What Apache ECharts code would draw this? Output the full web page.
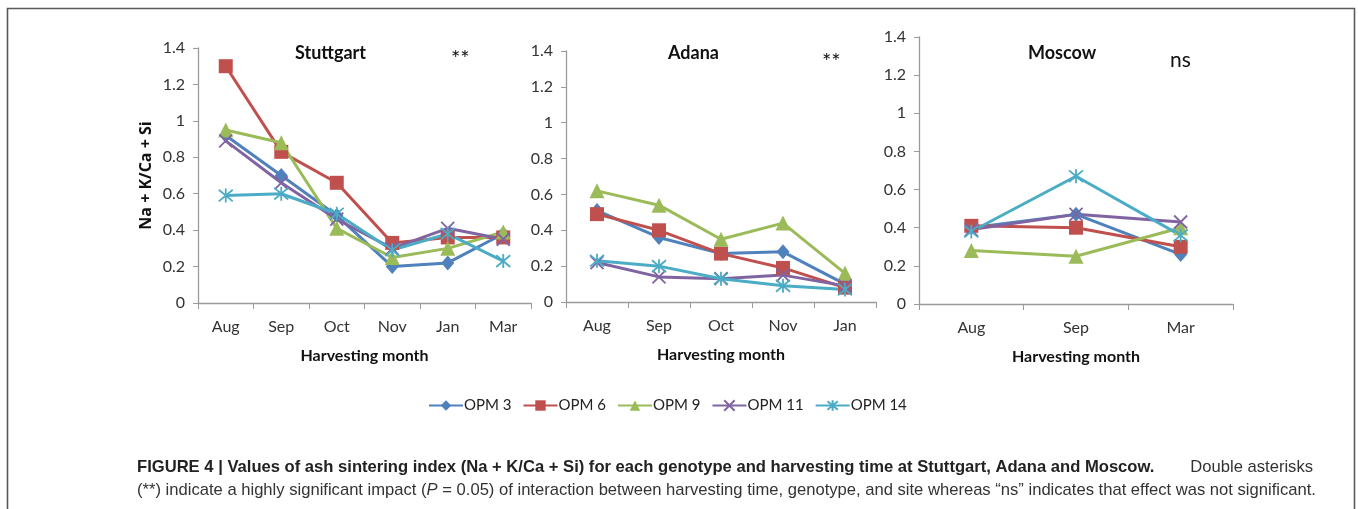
<!DOCTYPE html>
<html>
<head>
<meta charset="utf-8">
<script src="https://cdn.jsdelivr.net/npm/echarts@6/dist/echarts.min.js"></script>
<style>
  html, body { margin: 0; padding: 0; background: #fff; }
  #chart { width: 1358px; height: 509px; }
</style>
</head>
<body>
<div id="chart"></div>
<script>
// categories per site
const stuttgartMonths = ['Aug', 'Sep', 'Oct', 'Nov', 'Jan', 'Mar']
const adanaMonths = ['Aug', 'Sep', 'Oct', 'Nov', 'Jan']
const moscowMonths = ['Aug', 'Sep', 'Mar']

const seriesNames = ['OPM 3', 'OPM 6', 'OPM 9', 'OPM 11', 'OPM 14']

// Stuttgart
const stuttgartOpm3 = [0.92, 0.70, 0.48, 0.20, 0.22, 0.38]
const stuttgartOpm6 = [1.30, 0.83, 0.66, 0.33, 0.36, 0.36]
const stuttgartOpm9 = [0.95, 0.88, 0.41, 0.25, 0.30, 0.39]
const stuttgartOpm11 = [0.89, 0.66, 0.46, 0.30, 0.41, 0.35]
const stuttgartOpm14 = [0.59, 0.60, 0.49, 0.29, 0.38, 0.23]

// Adana
const adanaOpm3 = [0.51, 0.36, 0.27, 0.28, 0.10]
const adanaOpm6 = [0.49, 0.40, 0.27, 0.19, 0.08]
const adanaOpm9 = [0.62, 0.54, 0.35, 0.44, 0.16]
const adanaOpm11 = [0.22, 0.14, 0.13, 0.15, 0.09]
const adanaOpm14 = [0.23, 0.20, 0.13, 0.09, 0.07]

// Moscow
const moscowOpm3 = [0.40, 0.47, 0.26]
const moscowOpm6 = [0.41, 0.40, 0.30]
const moscowOpm9 = [0.28, 0.25, 0.40]
const moscowOpm11 = [0.39, 0.47, 0.43]
const moscowOpm14 = [0.38, 0.67, 0.36]

const yTicks = [0, 0.2, 0.4, 0.6, 0.8, 1, 1.2, 1.4]

const colors = ['#4F81BD', '#C0504D', '#9BBB59', '#8064A2', '#4BACC6']
const symbols = [
  'diamond',
  'rect',
  'triangle',
  'path://M0,0L10,10M10,0L0,10',
  'path://M0,0L10,10M10,0L0,10M5,-1L5,11'
]
const symbolSizes = [[13, 15], 14, 15, 13, 14]

const siteData = [
  [stuttgartOpm3, stuttgartOpm6, stuttgartOpm9, stuttgartOpm11, stuttgartOpm14],
  [adanaOpm3, adanaOpm6, adanaOpm9, adanaOpm11, adanaOpm14],
  [moscowOpm3, moscowOpm6, moscowOpm9, moscowOpm11, moscowOpm14]
]
const siteMonths = [stuttgartMonths, adanaMonths, moscowMonths]

const axisColor = '#9a9a9a'
const labelFont = 'Lato, "Open Sans", sans-serif'
const boldFont = 'Lato, "Open Sans", sans-serif'
const captionFont = '"Liberation Sans", Arial, sans-serif'

const grids = [
  { left: 198, top: 48, width: 333, height: 255 },
  { left: 566, top: 51, width: 310, height: 251 },
  { left: 919, top: 37, width: 314, height: 267 }
]

const xAxes = siteMonths.map((months, i) => ({
  type: 'category',
  gridIndex: i,
  data: months,
  name: 'Harvesting month',
  nameLocation: 'middle',
  nameGap: 45,
  nameTextStyle: { fontFamily: boldFont, fontWeight: 'bold', fontSize: 16, color: '#111' },
  axisLine: { lineStyle: { color: axisColor, width: 1.3 } },
  axisTick: { show: true, length: 6, lineStyle: { color: axisColor } },
  axisLabel: { fontFamily: labelFont, fontSize: 16, color: '#333', margin: 16 }
}))

const yAxes = siteMonths.map((m, i) => ({
  type: 'value',
  gridIndex: i,
  min: 0,
  max: 1.4,
  interval: 0.2,
  name: i === 0 ? 'Na + K/Ca + Si' : '',
  nameLocation: 'middle',
  nameGap: 44,
  nameTextStyle: { fontFamily: '"Open Sans", sans-serif', fontWeight: 'bold', fontSize: 16, color: '#111' },
  splitLine: { show: false },
  axisLine: { show: true, lineStyle: { color: axisColor, width: 1.3 } },
  axisTick: { show: true, length: 5, lineStyle: { color: axisColor } },
  axisLabel: {
    fontFamily: labelFont, fontSize: 16, color: '#333', margin: 13,
    formatter: v => yTicks.includes(Math.round(v * 10) / 10) ? String(Math.round(v * 10) / 10) : ''
  }
}))

const series = []
siteData.forEach((site, g) => {
  site.forEach((vals, k) => {
    const isStroke = k >= 3
    series.push({
      name: seriesNames[k],
      type: 'line',
      xAxisIndex: g,
      yAxisIndex: g,
      data: vals,
      symbol: symbols[k],
      symbolSize: symbolSizes[k],
      lineStyle: { color: colors[k], width: 3 },
      itemStyle: isStroke
        ? { color: colors[k], borderColor: colors[k], borderWidth: 1.8 }
        : { color: colors[k] },
      emphasis: { disabled: true },
      animation: false
    })
  })
})

const titleFont = 'bold 18px ' + boldFont
const capRich = {
  b: { fontFamily: captionFont, fontWeight: 'bold', fontSize: 16.6, fill: '#222', lineHeight: 23 },
  n: { fontFamily: captionFont, fontSize: 16.6, fill: '#333', lineHeight: 23 },
  i: { fontFamily: captionFont, fontStyle: 'italic', fontSize: 16.6, fill: '#333', lineHeight: 23 }
}
const graphic = [
  { type: 'rect', shape: { x: 7.5, y: 8.5, width: 1347, height: 520 }, style: { fill: 'none', stroke: '#5a5a5a', lineWidth: 1.6 }, silent: true },
  { type: 'text', x: 295, y: 44, style: { text: 'Stuttgart', font: titleFont, fill: '#111' } },
  { type: 'text', x: 451, y: 48, style: { text: '**', font: '22px ' + labelFont, fill: '#111' } },
  { type: 'text', x: 668, y: 44, style: { text: 'Adana', font: titleFont, fill: '#111' } },
  { type: 'text', x: 822, y: 51, style: { text: '**', font: '22px ' + labelFont, fill: '#111' } },
  { type: 'text', x: 1028, y: 44, style: { text: 'Moscow', font: titleFont, fill: '#111' } },
  { type: 'text', x: 1170, y: 50, style: { text: 'ns', font: '21px ' + labelFont, fill: '#111' } },
  {
    type: 'text', x: 137, y: 456,
    style: {
      text: '{b|FIGURE 4 | Values of ash sintering index (Na + K/Ca + Si) for each genotype and harvesting time at Stuttgart, Adana and Moscow.}\n' +
        '{n|(**) indicate a highly significant impact (}{i|P}{n| = 0.05) of interaction between harvesting time, genotype, and site whereas “ns” indicates that effect was not significant.}',
      rich: capRich
    }
  },
  { type: 'text', x: 1313, y: 456, style: { text: 'Double asterisks', align: 'right', fontFamily: captionFont, fontSize: 16.6, fill: '#333', lineHeight: 23 } }
]

const chart = echarts.init(document.getElementById('chart'), null, { renderer: 'canvas' })
chart.setOption({
  animation: false,
  backgroundColor: '#fff',
  grid: grids,
  xAxis: xAxes,
  yAxis: yAxes,
  legend: {
    data: seriesNames,
    left: 423,
    top: 393,
    itemWidth: 34,
    itemHeight: 13,
    itemGap: 11,
    textStyle: { fontFamily: labelFont, fontSize: 15, color: '#222', padding: [0, 0, 0, -4] }
  },
  graphic: graphic,
  series: series
})
</script>
</body>
</html>
